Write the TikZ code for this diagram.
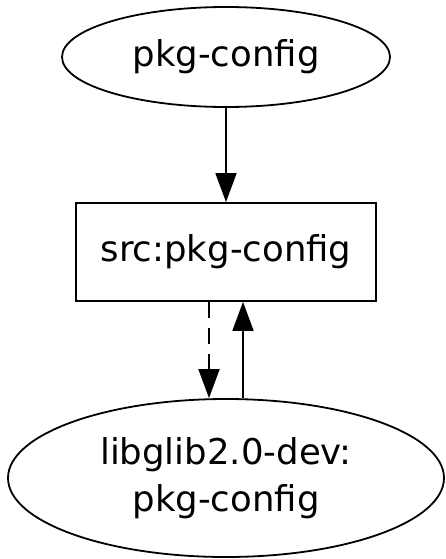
\documentclass[tikz,border=0pt]{standalone}
\usepackage{fontspec}
\setmainfont{DejaVu Sans}
\usetikzlibrary{shapes.geometric,arrows.meta}
\begin{document}
\begin{tikzpicture}[
  x=1pt,y=1pt,
  every node/.style={font=\fontsize{35.5}{47}\selectfont, inner sep=0pt, line width=1.8pt, draw, align=center},
  pkgnode/.style={ellipse},
  srcnode/.style={rectangle},
  link/.style={line width=1.8pt, -{Triangle[length=29pt,width=21pt]}},
]
\useasboundingbox (0,0) rectangle (446,-559);
\node[pkgnode, minimum width=328pt, minimum height=100pt] (top) at (226,-57) {pkg-config};
\node[srcnode, minimum width=300pt, minimum height=98pt] (src) at (226,-252) {src:pkg-config};
\node[pkgnode, minimum width=436pt, minimum height=158pt] (bot) at (226,-478) {libglib2.0-dev:\\pkg-config};
\draw[link] (top.south) -- (src.north);
\draw[link, dash pattern=on 16pt off 10pt] ([xshift=-17pt]src.south) -- ([xshift=-17pt]bot.north);
\draw[link] ([xshift=17pt]bot.north) -- ([xshift=17pt]src.south);
\end{tikzpicture}
\end{document}
